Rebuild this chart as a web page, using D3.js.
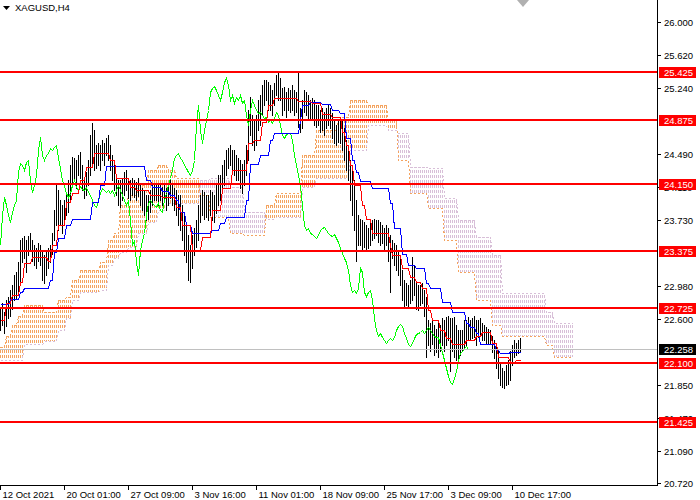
<!DOCTYPE html>
<html><head><meta charset="utf-8">
<script src="https://cdn.jsdelivr.net/npm/d3@7"></script>
<style>
body{margin:0;background:#fff;}
svg{display:block;}
text{font-family:"Liberation Sans",Arial,sans-serif;}
</style>
</head><body>
<svg id="chart" width="700" height="500"></svg>
<script>
// ---------------- DATA ----------------
const symbolLabel = "XAGUSD,H4";

// H4 bars (oldest -> newest)
const high = [
22.72,22.78,22.68,22.82,22.85,22.93,22.99,23.10,23.14,23.25,
23.50,23.53,23.55,23.50,23.55,23.58,23.50,23.45,23.41,23.47,
23.45,23.39,23.33,23.39,23.41,23.45,23.58,23.85,24.13,24.08,
23.96,23.90,23.96,24.02,24.19,24.36,24.45,24.44,24.42,24.48,
24.51,24.36,24.21,24.28,24.42,24.71,24.84,24.76,24.59,24.61,
24.59,24.65,24.61,24.67,24.71,24.59,24.48,24.36,24.25,24.19,
24.19,24.21,24.28,24.31,24.21,24.19,24.22,24.19,24.17,24.21,
24.13,24.10,24.08,24.02,24.02,24.08,24.13,24.16,24.13,24.13,
24.16,24.11,24.14,24.10,24.13,24.19,24.16,24.10,24.08,24.02,
24.02,23.90,23.79,23.68,23.56,23.45,23.56,23.64,23.73,23.90,
24.02,24.08,24.05,24.02,24.02,24.08,24.05,24.02,24.13,24.25,
24.25,24.36,24.42,24.53,24.56,24.59,24.53,24.53,24.48,24.44,
24.42,24.38,24.42,24.59,24.99,25.14,24.93,24.88,24.93,25.11,
25.16,25.28,25.34,25.34,25.31,25.28,25.22,25.30,25.39,25.42,
25.36,25.24,25.26,25.20,25.24,25.22,25.28,25.22,25.20,25.42,
25.02,25.11,25.22,25.20,25.16,25.11,25.13,25.11,25.05,25.05,
24.99,25.02,24.97,25.02,25.05,25.02,24.96,24.88,24.82,24.88,
24.91,24.88,24.79,24.65,24.59,24.42,24.31,24.19,23.96,23.79,
23.75,23.73,23.71,23.68,23.64,23.71,23.73,23.75,23.73,23.73,
23.71,23.68,23.64,23.68,23.64,23.56,23.50,23.47,23.45,23.39,
23.30,23.16,23.05,23.01,22.99,23.05,23.31,23.22,23.01,22.99,
22.99,23.01,22.93,22.85,22.59,22.56,22.59,22.53,22.49,22.59,
22.53,22.61,22.59,22.62,22.64,22.61,22.61,22.62,22.53,22.47,
22.47,22.47,22.59,22.59,22.62,22.59,22.61,22.64,22.59,22.59,
22.61,22.56,22.53,22.51,22.49,22.47,22.41,22.36,22.32,22.24,
22.09,22.04,22.01,22.07,22.13,22.24,22.30,22.36,22.33,22.36,22.38];

const low = [
22.47,22.53,22.44,22.52,22.61,22.64,22.72,22.82,22.84,22.91,
23.02,23.25,23.30,23.14,23.33,23.39,23.27,23.22,23.18,23.27,
23.22,23.05,23.01,23.10,23.18,23.25,23.35,23.50,23.68,23.62,
23.68,23.59,23.68,23.79,23.82,23.96,24.13,24.19,24.10,24.25,
24.21,24.08,23.98,24.02,24.13,24.25,24.36,24.31,24.33,24.36,
24.31,24.42,24.36,24.48,24.42,24.31,24.19,24.08,24.02,23.90,
23.88,23.96,24.02,24.08,23.98,23.96,24.02,24.00,23.96,24.01,
23.90,23.85,23.79,23.73,23.75,23.82,23.90,23.96,23.96,23.90,
23.96,23.90,23.96,23.85,23.90,23.98,23.90,23.85,23.79,23.68,
23.62,23.50,23.33,23.25,23.05,23.02,23.18,23.33,23.42,23.50,
23.71,23.79,23.75,23.77,23.73,23.79,23.73,23.71,23.81,23.90,
23.96,24.08,24.13,24.25,24.33,24.36,24.31,24.25,24.19,24.19,
24.10,24.04,24.13,24.25,24.42,24.71,24.59,24.53,24.59,24.76,
24.82,24.93,25.05,25.11,24.99,24.99,24.93,25.05,25.16,25.11,
25.11,24.93,24.99,24.91,24.99,24.97,24.99,24.93,24.97,24.80,
24.74,24.79,24.97,24.93,24.88,24.90,24.88,24.82,24.80,24.82,
24.74,24.76,24.71,24.79,24.82,24.79,24.67,24.61,24.59,24.63,
24.61,24.53,24.42,24.31,24.19,23.96,23.79,23.62,23.27,23.45,
23.45,23.39,23.42,23.39,23.41,23.45,23.50,23.53,23.56,23.48,
23.45,23.47,23.39,23.45,23.27,22.91,23.30,23.22,23.16,23.10,
22.99,22.82,22.74,22.76,22.74,22.78,22.82,22.87,22.72,22.70,
22.76,22.78,22.64,22.16,22.30,22.24,22.32,22.19,22.22,22.16,
22.24,22.30,22.24,22.30,22.36,22.01,22.24,22.16,22.13,22.15,
22.19,22.24,22.28,22.30,22.36,22.36,22.38,22.39,22.30,22.39,
22.41,22.36,22.36,22.32,22.33,22.32,22.22,22.15,22.04,21.92,
21.84,21.82,21.81,21.84,21.86,21.90,22.07,22.16,22.19,22.21,22.22];

const close = [
22.59,22.64,22.56,22.70,22.76,22.82,22.87,22.93,22.99,23.05,
23.33,23.39,23.45,23.30,23.45,23.50,23.39,23.33,23.30,23.39,
23.33,23.25,23.14,23.25,23.30,23.33,23.45,23.79,24.00,23.90,
23.79,23.71,23.82,23.90,23.96,24.28,24.39,24.36,24.31,24.40,
24.42,24.19,24.05,24.13,24.25,24.53,24.68,24.48,24.42,24.48,
24.50,24.56,24.53,24.57,24.59,24.44,24.33,24.19,24.12,24.04,
24.00,24.04,24.13,24.19,24.11,24.08,24.12,24.09,24.08,24.11,
24.05,24.02,23.96,23.90,23.88,23.96,24.04,24.10,24.08,24.05,
24.08,24.04,24.08,24.02,24.08,24.13,24.08,24.02,23.96,23.90,
23.96,23.73,23.45,23.50,23.25,23.10,23.39,23.50,23.58,23.79,
23.93,23.96,23.93,23.90,23.88,23.93,23.85,23.82,23.96,24.04,
24.13,24.21,24.31,24.44,24.48,24.50,24.44,24.42,24.36,24.33,
24.28,24.25,24.31,24.42,24.82,25.05,24.76,24.61,24.76,24.88,
24.99,25.20,25.24,25.27,25.22,25.16,25.11,25.20,25.31,25.36,
25.28,25.11,25.16,25.07,25.14,25.11,25.16,25.07,25.11,24.93,
24.82,24.99,25.11,25.05,24.99,24.96,24.97,24.93,24.90,24.91,
24.85,24.88,24.84,24.90,24.97,24.93,24.82,24.71,24.67,24.72,
24.73,24.73,24.65,24.48,24.36,24.25,24.13,23.90,23.68,23.62,
23.64,23.59,23.57,23.55,23.53,23.56,23.62,23.64,23.65,23.62,
23.58,23.56,23.55,23.57,23.53,23.48,23.41,23.36,23.30,23.25,
23.16,22.99,22.91,22.93,22.90,22.95,23.18,23.14,22.91,22.86,
22.91,22.93,22.82,22.61,22.47,22.41,22.44,22.39,22.36,22.33,
22.36,22.38,22.36,22.40,22.47,22.52,22.54,22.52,22.44,22.38,
22.32,22.29,22.33,22.38,22.43,22.44,22.45,22.47,22.44,22.47,
22.51,22.47,22.44,22.41,22.39,22.39,22.30,22.22,22.13,22.04,
21.95,21.88,21.86,21.92,22.01,22.13,22.21,22.24,22.27,22.29,22.258];

// Ichimoku lines, as step levels with the number of bars each level lasts
const tenkanLevels = [22.59,22.78,22.87,23.02,23.24,23.31,23.27,23.45,23.68,23.94,24.04,24.19,24.34,24.50,24.42,24.22,24.11,24.08,24.02,24.00,23.88,23.68,23.39,23.54,23.85,24.10,24.31,24.61,24.65,24.85,25.05,25.13,25.10,25.07,24.95,24.91,24.74,24.59,24.36,24.13,23.90,23.75,23.58,23.45,23.33,23.19,23.08,23.02,22.96,22.70,22.59,22.47,22.38,22.32,22.36,22.41,22.45,22.33,22.17,22.11,22.13];
const tenkanBars = [3,3,4,2,4,8,2,3,4,3,4,3,4,8,3,7,3,7,6,7,3,5,5,5,5,5,8,3,4,3,3,12,7,5,5,5,2,2,2,4,2,3,9,1,5,4,3,3,3,2,4,3,3,7,5,3,5,3,6,3,3];

const kijunLevels = [22.77,22.83,22.91,22.96,23.05,23.37,23.53,23.68,23.75,23.94,24.13,24.35,24.19,24.11,24.06,24.02,23.96,23.82,23.68,23.58,23.62,23.70,23.77,23.96,24.38,24.48,24.65,24.73,24.88,25.05,25.08,25.06,24.99,24.96,24.67,24.42,24.28,24.18,24.10,23.93,23.64,23.35,23.22,23.18,23.01,22.96,22.80,22.68,22.55,22.51,22.44,22.32,22.25,22.21,22.22];
const kijunBars = [5,5,2,13,2,2,4,3,10,4,3,20,3,5,4,3,2,3,3,10,4,3,10,2,5,5,2,13,1,4,6,5,4,3,3,2,2,6,9,2,4,3,4,5,2,6,5,7,2,3,2,8,2,5,6];

// Cloud (Senkou Span A / B), plotted 26 bars ahead
const spanALevels = [22.28,22.41,22.53,22.64,22.76,22.68,22.82,22.85,23.05,23.16,23.25,23.50,23.58,23.90,24.02,24.13,24.31,24.36,24.31,24.21,24.02,23.77,23.58,23.56,23.90,24.04,24.48,24.76,24.91,25.11,25.05,24.88,24.42,24.04,23.87,23.50,23.14,22.82,22.53,22.41,22.30,22.16];
const spanBLevels = [22.13,22.13,22.13,22.13,22.32,22.35,22.47,22.61,22.82,22.91,22.93,23.22,23.30,23.37,23.42,23.59,23.71,23.85,23.93,23.93,24.19,24.22,24.11,23.82,23.75,23.77,24.11,24.22,24.22,24.53,24.82,24.76,24.73,24.34,24.33,23.98,23.73,23.54,23.33,22.90,22.68,22.56];
const spanBars = [3,3,3,3,10,7,4,3,4,10,4,3,3,4,5,5,5,5,4,12,5,10,7,11,5,13,7,11,6,9,10,5,6,9,8,7,9,8,5,22,4,10];

const chikouShift = 26;

// Horizontal levels drawn on the chart
const levelLines = [25.425, 24.875, 24.150, 23.375, 22.725, 22.100, 21.425];
const bidPrice = 22.258;

// Axis ticks (those fully hidden behind price tags are not shown)
const priceTicks = [26.000, 25.620, 25.240, 24.490, 24.110, 23.730, 22.980, 22.600, 21.850, 21.470, 21.090, 20.720];
const timeTickBars = [0, 32, 64, 96, 128, 160, 192, 224, 256];
const timeTickLabels = ["12 Oct 2021", "20 Oct 01:00", "27 Oct 09:00", "3 Nov 16:00", "11 Nov 01:00", "18 Nov 09:00", "25 Nov 17:00", "3 Dec 09:00", "10 Dec 17:00"];

// ---------------- DRAW ----------------
const svg = d3.select("#chart");
const plotR = 657, plotB = 485;
const y = d3.scaleLinear().domain([20.72, 26]).range([483.3, 22]);
const x = d3.scaleLinear().domain([0, 328]).range([0.5, 656.5]);
const py = v => Math.round(y(v)) + 0.5;

function expand(levels, runs) {
  const out = [];
  levels.forEach((v, k) => { for (let j = 0; j < runs[k]; j++) out.push(v); });
  return out;
}
const tenkan = expand(tenkanLevels, tenkanBars);
const kijun = expand(kijunLevels, kijunBars);
const spanA = expand(spanALevels, spanBars);
const spanB = expand(spanBLevels, spanBars);

svg.append("rect").attr("width", 700).attr("height", 500).attr("fill", "#fff");

svg.append("defs").append("clipPath").attr("id", "plot")
  .append("rect").attr("x", 0).attr("y", 0).attr("width", plotR).attr("height", plotB);
const g = svg.append("g").attr("clip-path", "url(#plot)").attr("shape-rendering", "crispEdges");

// cloud hatch
const SANDY = "#F4A460", THISTLE = "#D8BFD8";
g.append("g").selectAll("line").data(spanA.map((a, i) => ({i, a, b: spanB[i]})))
  .join("line")
  .attr("x1", d => x(d.i)).attr("x2", d => x(d.i))
  .attr("y1", d => Math.round(Math.min(y(d.a), y(d.b))))
  .attr("y2", d => Math.round(Math.max(y(d.a), y(d.b))))
  .attr("stroke", d => d.a >= d.b ? SANDY : THISTLE)
  .attr("stroke-width", 1)
  .attr("stroke-dasharray", "3,2")
  .attr("stroke-dashoffset", d => Math.round(Math.min(y(d.a), y(d.b))) % 5);

const lineGen = d3.line().x(d => d[0]).y(d => d[1]);
g.append("path").attr("d", lineGen(spanB.map((v, i) => [x(i), py(v)])))
  .attr("fill", "none").attr("stroke", THISTLE).attr("stroke-dasharray", "2,2");
g.append("path").attr("d", lineGen(spanA.map((v, i) => [x(i), py(v)])))
  .attr("fill", "none").attr("stroke", SANDY).attr("stroke-dasharray", "2,2");

// price bars
g.append("g").selectAll("line").data(high.map((h, i) => ({i, h, l: low[i]})))
  .join("line")
  .attr("x1", d => x(d.i)).attr("x2", d => x(d.i))
  .attr("y1", d => Math.round(y(d.h))).attr("y2", d => Math.round(y(d.l)) + 1)
  .attr("stroke", "#000").attr("stroke-width", 1);

// chikou, kijun, tenkan
g.append("path").attr("d", lineGen(close.map((v, i) => [i, v]).filter(d => d[0] >= chikouShift).map(d => [x(d[0] - chikouShift), py(d[1])])))
  .attr("fill", "none").attr("stroke", "#00FF00").attr("stroke-width", 1);
g.append("path").attr("d", lineGen(kijun.map((v, i) => [x(i), py(v)])))
  .attr("fill", "none").attr("stroke", "#0000FF").attr("stroke-width", 1);
g.append("path").attr("d", lineGen(tenkan.map((v, i) => [x(i), py(v)])))
  .attr("fill", "none").attr("stroke", "#FF0000").attr("stroke-width", 1);

// bid line
g.append("line").attr("x1", 0).attr("x2", plotR).attr("y1", py(bidPrice)).attr("y2", py(bidPrice))
  .attr("stroke", "#C0C0C0").attr("stroke-width", 1);

// horizontal level lines
g.append("g").selectAll("rect").data(levelLines).join("rect")
  .attr("x", 0).attr("width", plotR)
  .attr("y", d => Math.round(y(d)) - 1).attr("height", 2)
  .attr("fill", "#FF0000");

// shift marker
svg.append("path").attr("d", "M517,0 L529,0 L523,7 Z").attr("fill", "#B0B0B0");

// axes
const ax = svg.append("g").attr("shape-rendering", "crispEdges");
ax.append("line").attr("x1", plotR + 0.5).attr("x2", plotR + 0.5).attr("y1", 0).attr("y2", plotB + 1).attr("stroke", "#000");
ax.append("line").attr("x1", 0).attr("x2", plotR + 1).attr("y1", plotB + 0.5).attr("y2", plotB + 0.5).attr("stroke", "#000");

const fs = "9.5px";
const pt = ax.append("g").selectAll("g").data(priceTicks).join("g");
pt.append("line").attr("x1", plotR).attr("x2", plotR + 4)
  .attr("y1", d => py(d)).attr("y2", d => py(d)).attr("stroke", "#000");
pt.append("text").attr("x", 664).attr("y", d => Math.round(y(d)) + 3.5)
  .attr("font-size", fs).attr("fill", "#000").text(d => d.toFixed(3));

const tt = ax.append("g").selectAll("g").data(timeTickBars).join("g");
tt.append("line").attr("x1", d => x(d)).attr("x2", d => x(d))
  .attr("y1", plotB).attr("y2", plotB + 5).attr("stroke", "#000");
tt.append("text").attr("x", d => x(d) + 2).attr("y", 497.5)
  .attr("font-size", fs).attr("fill", "#000").text((d, k) => timeTickLabels[k]);

// price labels for level lines and bid
function priceTag(v, bg) {
  const cy = Math.round(y(v));
  svg.append("rect").attr("x", 659).attr("y", cy - 5).attr("width", 37).attr("height", 11).attr("fill", bg);
  svg.append("text").attr("x", 664).attr("y", cy + 4).attr("font-size", fs).attr("fill", "#fff").text(v.toFixed(3));
}
levelLines.forEach(v => priceTag(v, "#FF0000"));
priceTag(bidPrice, "#000");

// title
svg.append("path").attr("d", "M3,6 L10,6 L6.5,10 Z").attr("fill", "#000");
svg.append("text").attr("x", 15).attr("y", 11).attr("font-size", fs).attr("fill", "#000").text(symbolLabel);
</script>
</body></html>
